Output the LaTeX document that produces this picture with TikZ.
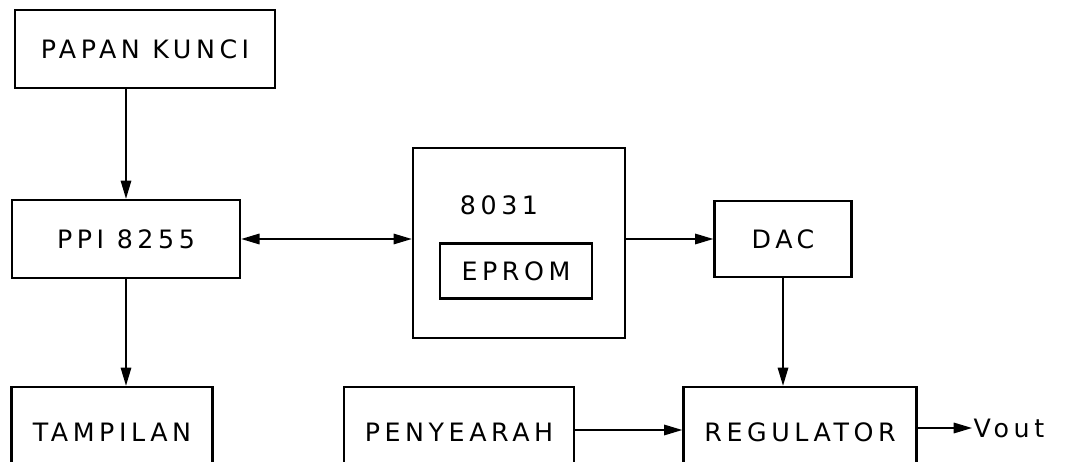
\documentclass[tikz,border=0pt]{standalone}
\usepackage{fontspec}
\setmainfont{DejaVu Sans}[LetterSpace=18]
\usepackage{tikz}
\usetikzlibrary{arrows.meta}

\begin{document}
\begin{tikzpicture}[
        x=0.025cm, y=0.025cm,
        blok/.style={draw, line width=1.7pt, inner sep=0pt, font=\fontsize{18}{20}\selectfont},
        panah/.style={line width=1.1pt, -{Triangle[length=13pt, width=7.5pt]}}
    ]
        \useasboundingbox (0,0) rectangle (1069,461);
        \clip (0,0) rectangle (1069,461);

        \node[blok, minimum width=6.5cm, minimum height=1.95cm] (papan) at (145,412) {PAPAN KUNCI};
        \node[blok, minimum width=5.7cm, minimum height=1.95cm] (ppi) at (126,222) {PPI 8255};
        \node[blok, minimum width=5.025cm, minimum height=2.25cm] (tampilan) at (112,29) {TAMPILAN};
        \node[blok, minimum width=5.3cm, minimum height=4.75cm] (mcu) at (519,218) {};
        \node[font=\fontsize{18}{20}\selectfont] (label8031) at (499,256) {8031};
        \node[blok, minimum width=3.8cm, minimum height=1.375cm] (eprom) at (516,190) {EPROM};
        \node[blok, minimum width=3.425cm, minimum height=1.9cm] (dac) at (783,222) {DAC};
        \node[blok, minimum width=5.75cm, minimum height=2.25cm] (penyearah) at (459,29) {PENYEARAH};
        \node[blok, minimum width=5.825cm, minimum height=2.25cm] (regulator) at (800,29) {REGULATOR};
        \node[font=\fontsize{18}{20}\selectfont, anchor=west, inner sep=1pt] (vout) at (972,33) {Vout};

        \draw[panah] (papan.south -| ppi.north) -- (ppi.north);
        \draw[panah] (ppi.south) -- (tampilan.north -| ppi.south);
        \draw[panah, {Triangle[length=13pt, width=7.5pt]}-{Triangle[length=13pt, width=7.5pt]}] (ppi.east) -- (mcu.west |- ppi.east);
        \draw[panah] (mcu.east |- dac.west) -- (dac.west);
        \draw[panah] (dac.south) -- (regulator.north -| dac.south);
        \draw[panah] (penyearah.east |- 0,31) -- (regulator.west |- 0,31);
        \draw[panah] (regulator.east |- vout.west) -- (vout.west);
    \end{tikzpicture}
\end{document}
